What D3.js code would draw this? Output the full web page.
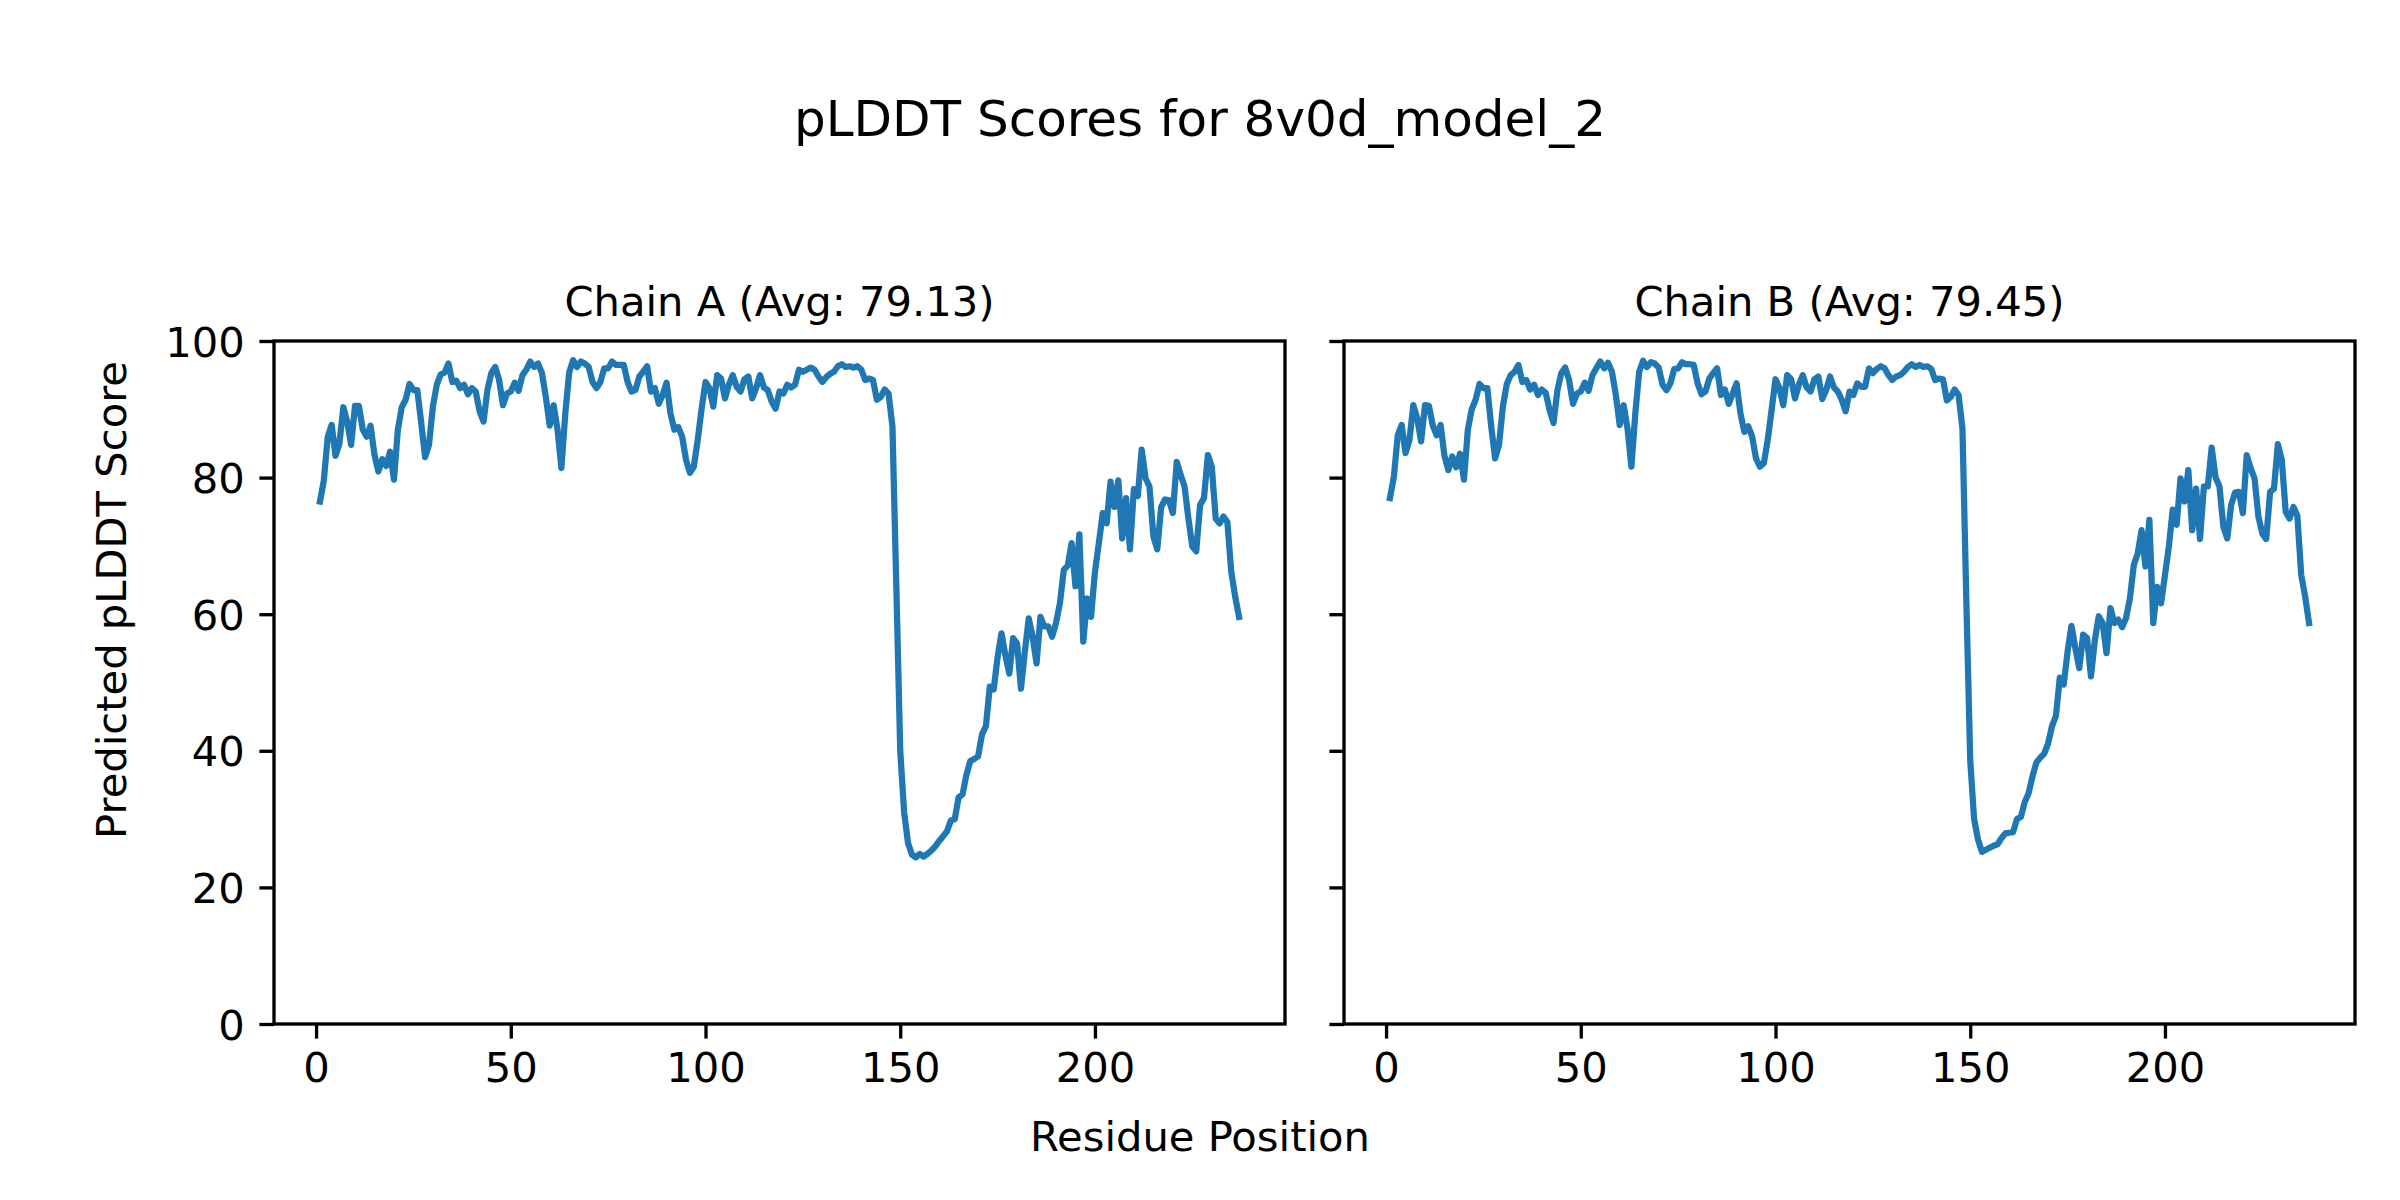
<!DOCTYPE html>
<html>
<head>
<meta charset="utf-8">
<script src="https://cdn.jsdelivr.net/npm/d3@7"></script>
<style>
  html, body { margin: 0; padding: 0; background: #ffffff; }
  svg { display: block; }
  text { font-family: "DejaVu Sans", sans-serif; }
</style>
</head>
<body>
<div id="chart"></div>
<script>
// ---------------- DATA ----------------
const figureTitle = "pLDDT Scores for 8v0d_model_2";
const xLabel = "Residue Position";
const yLabel = "Predicted pLDDT Score";
const chainNames = ["Chain A (Avg: 79.13)", "Chain B (Avg: 79.45)"];
const xTicks = [0, 50, 100, 150, 200];
const yTicks = [0, 20, 40, 60, 80, 100];
const firstResidue = 1;

const chainA = [
  76.5, 79.6, 86, 87.7, 83.2, 85, 90.3, 88.2, 84.8, 90.5,
  90.5, 87, 86, 87.6, 83.3, 80.9, 82.7, 81.7, 83.8, 79.7,
  87, 90.3, 91.4, 93.7, 92.8, 92.8, 88, 83, 84.8, 90.4,
  93.6, 95.1, 95.4, 96.7, 94, 94.2, 93.1, 93.6, 92.2, 93.1,
  92.6, 89.7, 88.2, 92.8, 95.3, 96.2, 94.3, 90.6, 92.3, 92.6,
  93.9, 92.7, 95, 95.8, 97, 96.2, 96.7, 95.3, 91.8, 87.6,
  90.6, 87, 81.4, 89.4, 95.4, 97.2, 96.2, 97, 96.7, 96.2,
  94, 93.1, 94, 96, 96, 97, 96.5, 96.5, 96.5, 94,
  92.6, 92.8, 94.8, 95.5, 96.3, 92.6, 93.1, 90.8, 92.1, 93.9,
  89.4, 87, 87.4, 86, 82.6, 80.7, 81.6, 85.5, 90.1, 94,
  93.1, 90.4, 95, 94.5, 91.6, 93.6, 95, 93.3, 92.6, 94.4,
  94.8, 91.6, 93.1, 95, 93.2, 92.8, 91.1, 90.1, 92.6, 92.3,
  93.6, 93.2, 93.6, 95.8, 95.5, 95.8, 96.1, 95.8, 94.8, 94,
  94.7, 95.2, 95.5, 96.3, 96.6, 96.2, 96.3, 96.1, 96.3, 95.8,
  94.3, 94.5, 94.3, 91.4, 91.8, 92.9, 92.3, 87.5, 64, 40,
  31, 26.5, 24.8, 24.4, 24.9, 24.5, 24.9, 25.4, 26, 26.8,
  27.5, 28.2, 29.8, 30, 33.2, 33.6, 36.5, 38.5, 38.8, 39.2,
  42.4, 43.6, 49.4, 49, 53.7, 57.2, 54, 51.3, 56.5, 55.7,
  49.1, 54.5, 59.4, 56.7, 52.8, 59.6, 58.2, 58.2, 56.7, 58.7,
  61.6, 66.5, 67.1, 70.4, 64.1, 71.7, 56, 62.3, 59.6, 66.2,
  70.4, 74.8, 73.3, 79.4, 75.7, 79.6, 71.1, 77, 69.5, 78.3,
  77.3, 84.1, 79.9, 78.7, 71.4, 69.5, 75.7, 76.8, 76.7, 74.8,
  82.3, 80.4, 78.7, 74, 69.9, 69.2, 76, 77, 83.3, 81.6,
  74, 73.3, 74.3, 73.5, 66.2, 62.6, 59.6
];

const chainB = [
  77, 80.1, 86.2, 87.7, 83.6, 85.5, 90.6, 88.7, 85.3, 90.6,
  90.5, 87.6, 86.2, 87.7, 83.2, 81.1, 83.1, 81.5, 83.5, 79.7,
  87, 90, 91.4, 93.7, 93.1, 93.1, 87.5, 82.8, 84.8, 90.4,
  93.7, 95, 95.5, 96.5, 94, 94.3, 92.9, 93.6, 92.1, 92.9,
  92.4, 89.9, 88, 92.8, 95.3, 96.1, 94.3, 90.8, 92.3, 92.6,
  93.9, 92.7, 95, 96, 97, 96, 96.8, 95.5, 92.1, 87.7,
  90.6, 87.2, 81.6, 89.4, 95.5, 97.1, 96.2, 96.9, 96.7, 96.1,
  93.6, 92.8, 93.8, 95.9, 96, 96.9, 96.6, 96.6, 96.5, 93.8,
  92.2, 92.6, 94.5, 95.3, 96, 92.1, 92.9, 90.8, 92.3, 93.8,
  89.4, 86.7, 87.5, 86, 82.8, 81.6, 82.1, 85.5, 89.9, 94.4,
  93.1, 90.6, 95, 94.4, 91.6, 93.6, 95, 93.2, 92.6, 94.4,
  94.8, 91.5, 92.8, 94.8, 93.2, 92.6, 91.4, 89.7, 92.6, 92.1,
  93.8, 93.3, 93.3, 96, 95.3, 95.9, 96.3, 96, 95, 94.3,
  94.8, 95, 95.5, 96.2, 96.6, 96.2, 96.5, 96.2, 96.3, 95.9,
  94.3, 94.5, 94.4, 91.3, 91.8, 92.9, 92.1, 87.2, 62, 38.6,
  30, 27, 25.2, 25.5, 25.8, 26.1, 26.3, 27.2, 27.9, 28,
  28.1, 30, 30.3, 32.5, 33.8, 36.3, 38.3, 39, 39.6, 41.1,
  43.6, 45.1, 50.7, 49.7, 54.5, 58.3, 55, 52.1, 57, 56.5,
  50.9, 56.2, 59.7, 58.7, 54.3, 60.9, 58.7, 59.2, 58.1, 59.4,
  62.3, 67.2, 68.9, 72.3, 67, 73.8, 58.7, 64, 61.6, 65.7,
  69.9, 75.3, 73.1, 79.9, 76.5, 81.1, 72.3, 78.4, 71, 78.7,
  78.7, 84.4, 80, 78.7, 72.8, 71.1, 76, 77.8, 77.9, 74.8,
  83.3, 81.4, 79.9, 74.3, 71.8, 71, 77.9, 78.4, 84.9, 82.6,
  75, 74, 75.7, 74.4, 65.7, 62.6, 58.7
];

const chains = [chainA, chainB];

// ---------------- LAYOUT ----------------
const W = 2400, H = 1200;
const axLefts = [274, 1344];
const axTop = 341, axW = 1011, axH = 683;
const lineColor = "#1f77b4";
const spineW = 3.33, tickLen = 14.6, tickPad = 14.6;
const labelSize = 41.67, titleSize = 50;

const svg = d3.select("#chart").append("svg")
  .attr("width", W).attr("height", H)
  .attr("viewBox", `0 0 ${W} ${H}`);

svg.append("rect").attr("width", W).attr("height", H).attr("fill", "#ffffff");

// x domain with matplotlib-like 5% margins
const nRes = chainA.length;
const xMin = firstResidue, xMax = firstResidue + nRes - 1;
const xMargin = (xMax - xMin) * 0.05;

const x = d3.scaleLinear().domain([xMin - xMargin, xMax + xMargin]).range([0, axW]);
const y = d3.scaleLinear().domain([0, 100]).range([axH, 0]);

chains.forEach((vals, i) => {
  const g = svg.append("g").attr("transform", `translate(${axLefts[i]},${axTop})`);
  const pts = vals.map((v, k) => [firstResidue + k, v]);

  const line = d3.line().x(d => x(d[0])).y(d => y(d[1]));
  g.append("path")
    .attr("d", line(pts))
    .attr("fill", "none")
    .attr("stroke", lineColor)
    .attr("stroke-width", 6.25)
    .attr("stroke-linejoin", "round")
    .attr("stroke-linecap", "square");

  // x axis
  const xa = g.append("g").attr("transform", `translate(0,${axH})`)
    .call(d3.axisBottom(x).tickValues(xTicks).tickFormat(d3.format("d"))
      .tickSize(tickLen).tickPadding(tickPad));
  // y axis
  const ya = g.append("g")
    .call(d3.axisLeft(y).tickValues(yTicks)
      .tickFormat(i === 0 ? d3.format("d") : () => "")
      .tickSize(tickLen).tickPadding(tickPad));

  [xa, ya].forEach(a => {
    a.select(".domain").remove();
    a.selectAll(".tick line").attr("stroke", "#000").attr("stroke-width", spineW);
    a.selectAll(".tick text")
      .attr("fill", "#000")
      .style("font-family", "'DejaVu Sans', sans-serif")
      .style("font-size", labelSize + "px");
  });
  xa.selectAll(".tick text").attr("dy", "0.68em");
  ya.selectAll(".tick text").attr("dy", "0.36em");

  // spines
  g.append("rect")
    .attr("x", 0).attr("y", 0).attr("width", axW).attr("height", axH)
    .attr("fill", "none").attr("stroke", "#000").attr("stroke-width", spineW);

  // subplot title
  g.append("text")
    .attr("x", axW / 2).attr("y", -25)
    .attr("text-anchor", "middle")
    .style("font-size", labelSize + "px")
    .attr("fill", "#000")
    .text(chainNames[i]);
});

// figure title
svg.append("text")
  .attr("x", W / 2).attr("y", 136)
  .attr("text-anchor", "middle")
  .style("font-size", titleSize + "px")
  .attr("fill", "#000")
  .text(figureTitle);

// shared x label
svg.append("text")
  .attr("x", W / 2).attr("y", 1151)
  .attr("text-anchor", "middle")
  .style("font-size", labelSize + "px")
  .attr("fill", "#000")
  .text(xLabel);

// shared y label
svg.append("text")
  .attr("transform", `translate(126,600) rotate(-90)`)
  .attr("text-anchor", "middle")
  .style("font-size", labelSize + "px")
  .attr("fill", "#000")
  .text(yLabel);
</script>
</body>
</html>
